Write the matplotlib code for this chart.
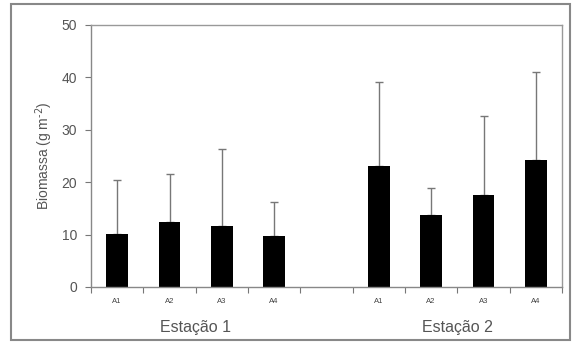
import matplotlib
matplotlib.use("Agg")
import matplotlib.pyplot as plt
from matplotlib.patches import Rectangle
import numpy as np

plt.rcParams['font.family'] = ['Liberation Sans', 'DejaVu Sans']

categories = ["A1", "A2", "A3", "A4", "", "A1", "A2", "A3", "A4"]
means = [10.2, 12.5, 11.7, 9.8, np.nan, 23.1, 13.7, 17.6, 24.3]
err_top = [20.4, 21.6, 26.3, 16.2, np.nan, 39.2, 18.9, 32.6, 41.1]
groups = ["Estação 1", "Estação 2"]
yticks = [0, 10, 20, 30, 40, 50]

W, H = 572, 351
fig = plt.figure(figsize=(W / 100, H / 100), dpi=100)
ax = fig.add_axes([91 / W, 1 - 287 / H, (562 - 91) / W, (287 - 25) / H])

x = np.arange(len(categories))
m = np.array(means, dtype=float)
e = np.array(err_top, dtype=float) - m
valid = ~np.isnan(m)
ax.bar(x[valid], m[valid], width=0.42, color="black", zorder=2)
ax.errorbar(x[valid], m[valid], yerr=[np.zeros(valid.sum()), e[valid]],
            fmt="none", ecolor="#777777", elinewidth=1.0, capsize=3,
            capthick=1.0, zorder=1)

ax.set_xlim(-0.5, len(categories) - 0.5)
ax.set_ylim(0, 50)
ax.set_yticks(yticks)
ax.set_yticklabels([str(t) for t in yticks], fontsize=10, color="#555555")

ax.set_xticks(np.arange(-0.5, len(categories), 1.0))
ax.set_xticklabels([])
ax.set_xticks(x, minor=True)
ax.set_xticklabels(categories, minor=True, fontsize=5.5, color="#444444")
ax.tick_params(axis="x", which="major", direction="out", length=4, color="#777777")
ax.tick_params(axis="x", which="minor", length=0, pad=8)
ax.tick_params(axis="y", direction="out", length=4, color="#777777", pad=6)

for s in ax.spines.values():
    s.set_color("#999999")
    s.set_linewidth(1.0)
ax.spines["left"].set_color("#888888")
ax.spines["bottom"].set_color("#888888")

ax.set_ylabel("Biomassa (g m$^{\\text{-2}}$)", fontsize=10, color="#555555", labelpad=5)

ax.text(1.5, -0.155, groups[0], transform=ax.get_xaxis_transform(),
        ha="center", va="center", fontsize=11.5, color="#555555")
ax.text(6.5, -0.155, groups[1], transform=ax.get_xaxis_transform(),
        ha="center", va="center", fontsize=11.5, color="#555555")

fig.patches.append(Rectangle((11 / W, 1 - 340 / H), (570 - 11) / W, (340 - 4) / H,
                             transform=fig.transFigure, fill=False,
                             edgecolor="#888888", linewidth=1.5))

fig.savefig("out.png", dpi=100)
